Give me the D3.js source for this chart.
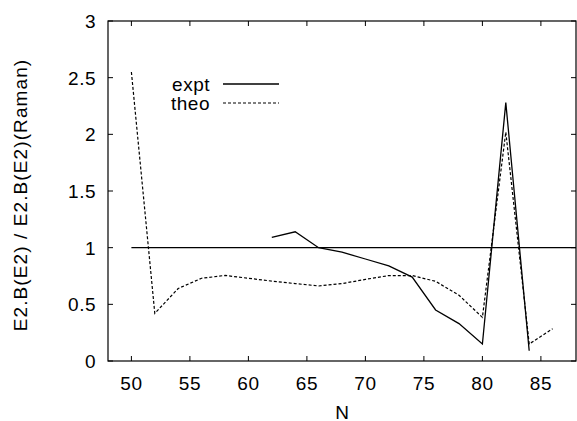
<!DOCTYPE html>
<html>
<head>
<meta charset="utf-8">
<style>
  body { margin: 0; background: #fff; }
  svg { display: block; font-family: "Liberation Sans", Arial, sans-serif; }
</style>
</head>
<body>
<svg id="chart" width="577" height="421"></svg>
<script src="https://d3js.org/d3.v7.min.js"></script>
<script>
// data
const refN = [50, 88];
const refVal = [1, 1];

const exptN = [62, 64, 66, 68, 70, 72, 74, 76, 78, 80, 82, 84];
const exptVal = [1.09, 1.14, 1.0, 0.96, 0.90, 0.84, 0.74, 0.45, 0.33, 0.15, 2.28, 0.09];

const theoN = [50, 52, 54, 56, 58, 60, 62, 64, 66, 68, 70, 72, 74, 76, 78, 80, 82, 84, 86];
const theoVal = [2.55, 0.42, 0.64, 0.73, 0.755, 0.73, 0.705, 0.683, 0.662, 0.683, 0.72, 0.754, 0.754, 0.703, 0.58, 0.385, 2.02, 0.15, 0.285];

const xTicks = [50, 55, 60, 65, 70, 75, 80, 85];
const yTicks = [0, 0.5, 1, 1.5, 2, 2.5, 3];

const width = 577, height = 421;
const margin = {top: 21, right: 1, bottom: 60, left: 108};

const svg = d3.select('#chart');

const x = d3.scaleLinear().domain([48, 88]).range([margin.left, width - margin.right]);
const y = d3.scaleLinear().domain([0, 3]).range([height - margin.bottom, margin.top]);

const fs = 19;

// frame
svg.append("rect")
    .attr("x", x(48)).attr("y", y(3))
    .attr("width", x(88) - x(48)).attr("height", y(0) - y(3))
    .attr("fill", "none").attr("stroke", "#000").attr("stroke-width", 1.2);

// ticks (inward, on all sides)
const tk = 5;
const tg = svg.append("g").attr("stroke", "#000").attr("stroke-width", 1);
xTicks.forEach(t => {
  tg.append("line").attr("x1", x(t)).attr("x2", x(t)).attr("y1", y(0)).attr("y2", y(0) - tk);
  tg.append("line").attr("x1", x(t)).attr("x2", x(t)).attr("y1", y(3)).attr("y2", y(3) + tk);
});
yTicks.forEach(t => {
  tg.append("line").attr("x1", x(48)).attr("x2", x(48) + tk).attr("y1", y(t)).attr("y2", y(t));
  tg.append("line").attr("x1", x(88)).attr("x2", x(88) - tk).attr("y1", y(t)).attr("y2", y(t));
});

// tick labels
svg.append("g").style("font-size", fs + "px").style("letter-spacing", "0.5px")
  .selectAll("text").data(xTicks).join("text")
    .attr("x", d => x(d)).attr("y", 390)
    .attr("text-anchor", "middle")
    .text(d => d);

svg.append("g").style("font-size", fs + "px").style("letter-spacing", "0.5px")
  .selectAll("text").data(yTicks).join("text")
    .attr("x", 96).attr("y", d => y(d))
    .attr("dy", "0.36em")
    .attr("text-anchor", "end")
    .text(d => d);

// axis titles
svg.append("text")
    .attr("x", (x(48) + x(88)) / 2).attr("y", 419)
    .attr("text-anchor", "middle")
    .style("font-size", fs + "px")
    .text("N");

svg.append("text")
    .attr("transform", `translate(27,195) rotate(-90)`)
    .attr("text-anchor", "middle")
    .style("font-size", fs + "px")
    .style("letter-spacing", "1.1px")
    .text("E2.B(E2) / E2.B(E2)(Raman)");

// lines
const line = d3.line().x(d => x(d[0])).y(d => y(d[1]));

svg.append("path")
    .datum(d3.zip(refN, refVal))
    .attr("d", line)
    .attr("fill", "none").attr("stroke", "#000").attr("stroke-width", 1.3);

svg.append("path")
    .datum(d3.zip(theoN, theoVal))
    .attr("d", line)
    .attr("fill", "none").attr("stroke", "#000").attr("stroke-width", 1.2)
    .attr("stroke-dasharray", "3,2");

svg.append("path")
    .datum(d3.zip(exptN, exptVal))
    .attr("d", line)
    .attr("fill", "none").attr("stroke", "#000").attr("stroke-width", 1.3);

// legend
const legend = [
  {name: "expt", dash: null, y: 84},
  {name: "theo", dash: "3,2", y: 103}
];
const lg = svg.append("g");
legend.forEach(d => {
  lg.append("text")
      .attr("x", 210).attr("y", d.y).attr("dy", "0.36em")
      .attr("text-anchor", "end")
      .style("font-size", fs + "px")
      .style("letter-spacing", "0.5px")
      .text(d.name);
  lg.append("line")
      .attr("x1", 223).attr("x2", 279)
      .attr("y1", d.y).attr("y2", d.y)
      .attr("stroke", "#000").attr("stroke-width", d.dash ? 1.2 : 1.3)
      .attr("stroke-dasharray", d.dash);
});
</script>
</body>
</html>
